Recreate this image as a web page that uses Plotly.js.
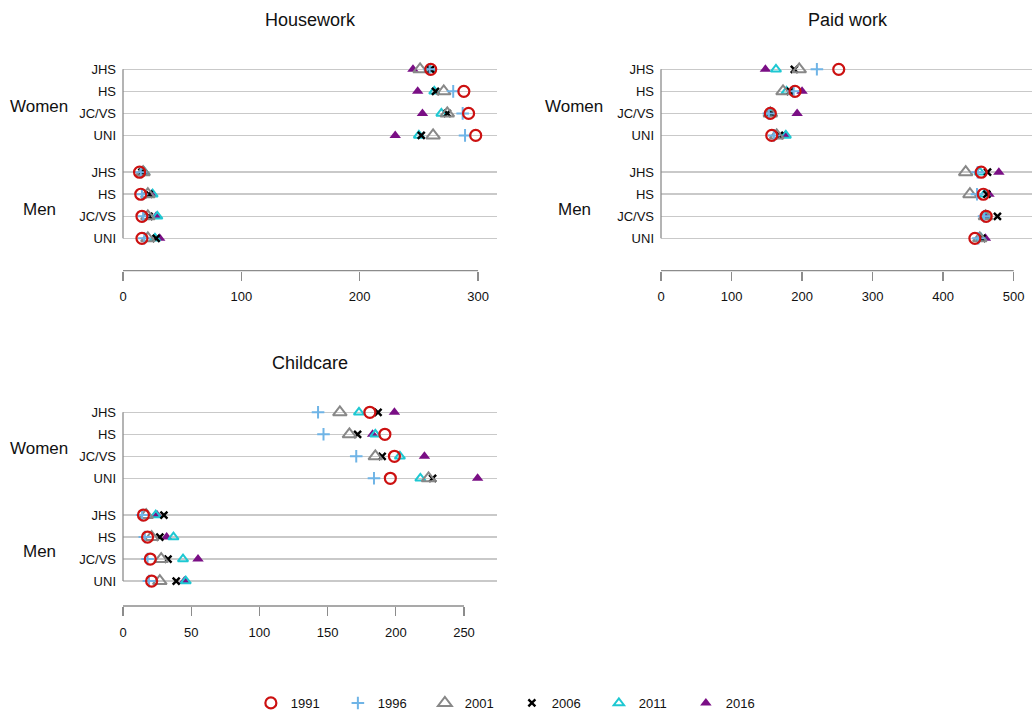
<!DOCTYPE html>
<html>
<head>
<meta charset="utf-8">
<script src="https://cdn.plot.ly/plotly-3.0.1.min.js"></script>
<style>html,body{margin:0;padding:0;background:#fff;}#chart{width:1032px;height:713px;}</style>
</head>
<body>
<div id="chart"></div>
<script>
// ---- data ----
var levels = ["JHS", "HS", "JC/VS", "UNI"];
var groups = ["Women", "Men"];
var years = ["1991", "1996", "2001", "2006", "2011", "2016"];

// Housework (minutes/day), order JHS, HS, JC/VS, UNI
var houseWomen1991 = [260, 288, 292, 298];
var houseWomen1996 = [259, 279, 287, 289];
var houseWomen2001 = [251, 271, 274, 262];
var houseWomen2006 = [260, 264, 274, 252];
var houseWomen2011 = [259, 263, 269, 250];
var houseWomen2016 = [245, 249, 253, 230];
var houseMen1991 = [14, 15, 16, 16];
var houseMen1996 = [15, 16, 17, 18];
var houseMen2001 = [17, 21, 21, 21];
var houseMen2006 = [16, 22, 22, 28];
var houseMen2011 = [18, 25, 29, 27];
var houseMen2016 = [17, 24, 28, 31];

// Paid work
var paidWomen1991 = [252, 190, 155, 157];
var paidWomen1996 = [221, 188, 153, 160];
var paidWomen2001 = [196, 173, 155, 164];
var paidWomen2006 = [189, 183, 156, 168];
var paidWomen2011 = [163, 178, 157, 177];
var paidWomen2016 = [148, 200, 193, 176];
var paidMen1991 = [454, 457, 461, 445];
var paidMen1996 = [449, 448, 458, 450];
var paidMen2001 = [432, 438, 460, 452];
var paidMen2006 = [463, 462, 477, 455];
var paidMen2011 = [452, 459, 461, 454];
var paidMen2016 = [479, 465, 460, 460];

// Childcare
var careWomen1991 = [181, 192, 199, 196];
var careWomen1996 = [143, 147, 171, 184];
var careWomen2001 = [159, 166, 185, 224];
var careWomen2006 = [187, 172, 190, 227];
var careWomen2011 = [173, 185, 203, 218];
var careWomen2016 = [199, 183, 221, 260];
var careMen1991 = [15, 18, 20, 21];
var careMen1996 = [14, 16, 18, 19];
var careMen2001 = [17, 21, 28, 27];
var careMen2006 = [30, 27, 33, 39];
var careMen2011 = [24, 37, 44, 46];
var careMen2016 = [25, 32, 55, 45];

var panelTitles = ["Housework", "Paid work", "Childcare"];
var houseTicks = [0, 100, 200, 300];
var paidTicks = [0, 100, 200, 300, 400, 500];
var careTicks = [0, 50, 100, 150, 200, 250];

// ---- assembly ----
var panels = [
  {w: {"1991": houseWomen1991, "1996": houseWomen1996, "2001": houseWomen2001, "2006": houseWomen2006, "2011": houseWomen2011, "2016": houseWomen2016},
   m: {"1991": houseMen1991, "1996": houseMen1996, "2001": houseMen2001, "2006": houseMen2006, "2011": houseMen2011, "2016": houseMen2016},
   ticks: houseTicks, x: "x", y: "y"},
  {w: {"1991": paidWomen1991, "1996": paidWomen1996, "2001": paidWomen2001, "2006": paidWomen2006, "2011": paidWomen2011, "2016": paidWomen2016},
   m: {"1991": paidMen1991, "1996": paidMen1996, "2001": paidMen2001, "2006": paidMen2006, "2011": paidMen2011, "2016": paidMen2016},
   ticks: paidTicks, x: "x2", y: "y2"},
  {w: {"1991": careWomen1991, "1996": careWomen1996, "2001": careWomen2001, "2006": careWomen2006, "2011": careWomen2011, "2016": careWomen2016},
   m: {"1991": careMen1991, "1996": careMen1996, "2001": careMen2001, "2006": careMen2006, "2011": careMen2011, "2016": careMen2016},
   ticks: careTicks, x: "x3", y: "y3"}
];

// row positions (men rows 1..4 bottom-up, women rows above a gap)
var gap = 1.67;
var menPos = [4, 3, 2, 1];
var womenPos = menPos.map(function (p) { return p + 4 - 1 + gap; });
var rowPos = womenPos.concat(menPos);
var rowText = levels.concat(levels);

var styles = {
  "1991": {symbol: "circle-open", size: 11, color: "#cc1111", line: {width: 2.2, color: "#cc1111"}},
  "1996": {symbol: "cross-thin-open", size: 9, color: "#6fb4e6", line: {width: 2, color: "#6fb4e6"}},
  "2001": {symbol: "triangle-up-open", size: 12, color: "#888888", line: {width: 2, color: "#888888"}},
  "2006": {symbol: "x-thin-open", size: 7, color: "#000000", line: {width: 2.4, color: "#000000"}},
  "2011": {symbol: "triangle-up-open", size: 9, color: "#1ec8d2", line: {width: 2, color: "#1ec8d2"}},
  "2016": {symbol: "triangle-up", size: 10, color: "#7a0f85", line: {width: 0, color: "#7a0f85"}}
};

var FONT = "'Liberation Sans Narrow', 'Liberation Sans', Arial, sans-serif";
var traces = [];
var drawOrder = years.slice().reverse();
panels.forEach(function (p, pi) {
  drawOrder.forEach(function (yr) {
    traces.push({
      type: "scatter", mode: "markers",
      name: yr, legendgroup: yr, legendrank: years.indexOf(yr) + 1,
      showlegend: pi === 0,
      x: p.w[yr].concat(p.m[yr]), y: rowPos,
      xaxis: p.x, yaxis: p.y,
      marker: styles[yr],
      hoverinfo: "x+name"
    });
  });
});

function xax(domain, range, ticks) {
  return {domain: domain, range: range, tickvals: ticks, ticktext: ticks.map(String),
    showgrid: false, zeroline: false, showline: false, ticks: "outside", ticklen: 9,
    ticklabelstandoff: 5,
    tickcolor: "#8c8c8c", tickwidth: 1.3, tickfont: {family: FONT, size: 13, color: "#111"}};
}
function yax(domain, anchor, range) {
  return {domain: domain, range: range, tickvals: rowPos, ticktext: rowText,
    showgrid: true, gridcolor: "#c9c9c9", gridwidth: 1.5, zeroline: false, showline: false,
    ticks: "", ticklabelstandoff: 6, anchor: anchor,
    tickfont: {family: FONT, size: 13, color: "#111"}};
}
var dHouseX = [123 / 1032, 497 / 1032];
var dPaidX = [661 / 1032, 1];
var dTopY = [1 - 270.7 / 713, 1 - 58.3 / 713];
var dBotY = [1 - 606 / 713, 1 - 400.3 / 713];

var shapes = [];
var axPairs = [["x", "y", houseTicks], ["x2", "y2", paidTicks], ["x3", "y3", careTicks]];
axPairs.forEach(function (a) {
  var last = a[2][a[2].length - 1];
  shapes.push({type: "line", xref: a[0], yref: a[1] + " domain", x0: 0, x1: last, y0: 0, y1: 0,
    line: {color: "#8c8c8c", width: 1.3}});
  shapes.push({type: "line", xref: a[0] + " domain", yref: a[1], x0: 0, x1: 0,
    y0: menPos[3], y1: womenPos[0], line: {color: "#8c8c8c", width: 1.3}});
});

var annotations = [];
var titlePos = [[310, 20], [848, 20], [310, 363]];
panelTitles.forEach(function (t, i) {
  annotations.push({text: t, xref: "paper", yref: "paper", x: titlePos[i][0] / 1032, y: 1 - titlePos[i][1] / 713,
    xanchor: "center", yanchor: "middle", showarrow: false, font: {family: FONT, size: 18, color: "#111"}});
});
var groupPos = [[39, 106, 209], [574, 106, 209], [39, 448, 551]];
groupPos.forEach(function (g) {
  annotations.push({text: groups[0], xref: "paper", yref: "paper", x: g[0] / 1032, y: 1 - g[1] / 713,
    xanchor: "center", yanchor: "middle", showarrow: false, font: {family: FONT, size: 17, color: "#111"}});
  annotations.push({text: groups[1], xref: "paper", yref: "paper", x: g[0] / 1032, y: 1 - g[2] / 713,
    xanchor: "center", yanchor: "middle", showarrow: false, font: {family: FONT, size: 17, color: "#111"}});
});

var layout = {
  width: 1032, height: 713,
  margin: {l: 0, r: 0, t: 0, b: 0, autoexpand: false},
  paper_bgcolor: "#ffffff", plot_bgcolor: "#ffffff",
  font: {family: FONT, color: "#111"},
  showlegend: true,
  legend: {orientation: "h", x: 0.496, xanchor: "center", y: 10 / 713, yanchor: "middle",
    font: {family: FONT, size: 13, color: "#111"}, entrywidth: 42, entrywidthmode: "pixels",
    traceorder: "normal", bgcolor: "rgba(0,0,0,0)"},
  xaxis: xax(dHouseX, [0, 316], houseTicks),
  yaxis: yax(dTopY, "x", [-0.47, 9.17]),
  xaxis2: Object.assign(xax(dPaidX, [0, 526], paidTicks), {anchor: "y2"}),
  yaxis2: yax(dTopY, "x2", [-0.47, 9.17]),
  xaxis3: Object.assign(xax(dHouseX, [0, 274.2], careTicks), {anchor: "y3"}),
  yaxis3: yax(dBotY, "x3", [-0.135, 9.215]),
  shapes: shapes,
  annotations: annotations
};
layout.xaxis.anchor = "y";

Plotly.newPlot("chart", traces, layout, {displayModeBar: false, staticPlot: true});
</script>
</body>
</html>
